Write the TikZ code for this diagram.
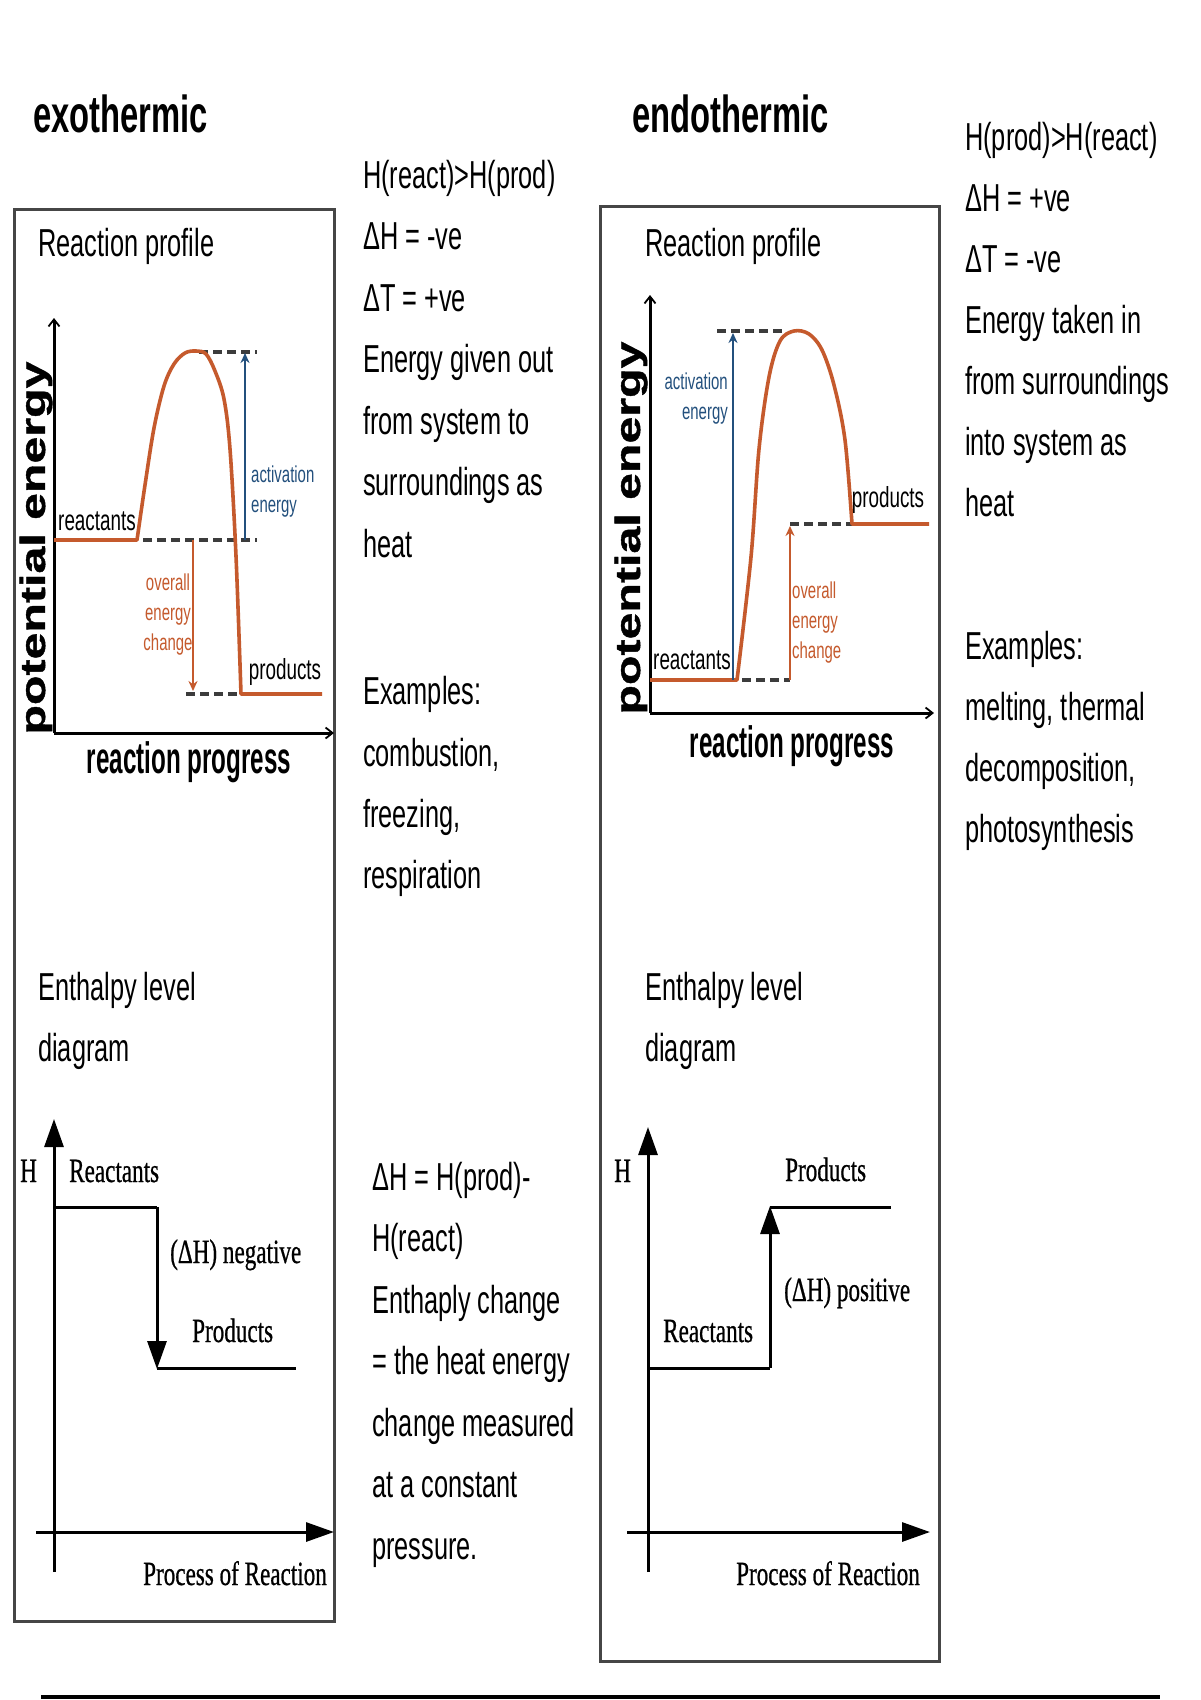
\documentclass[tikz,border=0pt]{standalone}
\usepackage{fontspec}
\usetikzlibrary{arrows.meta}
\setmainfont{Liberation Sans}
\newfontfamily\nar[FakeStretch=0.65]{Liberation Sans}
\newfontfamily\titlef[FakeStretch=0.63,UprightFont={* Bold}]{Liberation Sans}
\newfontfamily\progf[FakeStretch=0.55,UprightFont={* Bold}]{Liberation Sans}
\newfontfamily\potf[FakeStretch=1.38,FakeBold=1.2,UprightFont={* Bold}]{Liberation Sans}
\newfontfamily\serf[FakeStretch=0.68,FakeBold=0.6]{Liberation Serif}
\definecolor{curvec}{RGB}{197,90,45}
\definecolor{bluc}{RGB}{35,80,125}
\definecolor{boxc}{RGB}{70,70,70}
\definecolor{dashc}{RGB}{60,60,60}
\tikzset{
  boxline/.style={draw=boxc, line width=3pt},
  ttl/.style={anchor=base west, inner sep=0pt, font={\titlef\fontsize{52}{60}\selectfont}},
  txt/.style={anchor=base west, inner sep=0pt, font={\nar\fontsize{39}{47}\selectfont}},
  prog/.style={inner sep=0pt, font={\progf\fontsize{44}{50}\selectfont}},
  pot/.style={inner sep=0pt, rotate=90, font={\potf\fontsize{35}{40}\selectfont}},
  lvl/.style={inner sep=0pt, font={\nar\fontsize{29}{34}\selectfont}},
  small/.style={inner sep=0pt, font={\nar\fontsize{23}{30}\selectfont}},
  ser/.style={anchor=base west, inner sep=0pt, font={\serf\fontsize{34}{40}\selectfont}},
  axisarr/.style={line width=3pt, -{Straight Barb[length=7pt,width=11pt,line width=1.8pt]}},
  curvel/.style={draw=curvec, line width=3.6pt, line join=round},
  dashl/.style={draw=dashc, line width=3.2pt, dash pattern=on 9pt off 5pt},
  bluarr/.style={draw=bluc, line width=2.2pt, -{Stealth[length=10pt,width=9pt]}},
  orarr/.style={draw=curvec, line width=2.2pt, -{Stealth[length=10pt,width=9pt]}},
  hline/.style={line width=3pt},
  harr/.style={line width=3pt, -{Triangle[length=28pt,width=19pt]}},
}
\begin{document}
\begin{tikzpicture}[x=1pt,y=-1pt]
\useasboundingbox (0,0) rectangle (1200,1700);
\fill[white] (0,0) rectangle (1200,1700);

% titles
\node[ttl] (exo) at (33,132) {exothermic};
\node[ttl] (endo) at (632,132) {endothermic};

% boxes
\draw[boxline] (14,209) rectangle (334,1621);
\draw[boxline] (600,206) rectangle (939,1661);
\draw[line width=4pt] (41,1697) -- (1160,1697);

% ---------- left reaction profile ----------
\node[txt] (rpL) at (38,256) {Reaction profile};
\coordinate (oL) at (54,733);
\draw[axisarr] (oL) -- (54,318);
\draw[axisarr] (oL) -- (334,733);
\node[pot] (peL) at (36,548) {potential energy};
\node[prog] (rgL) at (189,762) {reaction progress};
\draw[dashl] (199,352) -- (257,352);
\draw[dashl] (143,540) -- (257,540);
\draw[dashl] (186,694) -- (241,694);
\draw[curvel] (54,540) -- (137,540) -- plot[smooth, tension=0.55] coordinates {(137,540) (145,485) (154,428) (164,386) (174,364) (185,353) (196,351) (206,354) (215,371) (224,399) (230,449) (236,556) (241,694)} -- (322,694);
\draw[bluarr] (245,540) -- (245,353);
\draw[orarr] (193,540) -- (193,691);
\node[lvl] (reL) at (97,521) {reactants};
\node[lvl] (prL) at (285,672) {products};
\node[small, text=bluc, align=left, anchor=west] (aeL) at (251,492) {activation\\energy};
\node[small, text=curvec, align=center] (oeL) at (168,615) {overall\\energy\\change};

% ---------- right reaction profile ----------
\node[txt] (rpR) at (645,256) {Reaction profile};
\coordinate (oR) at (650,713);
\draw[axisarr] (oR) -- (650,295);
\draw[axisarr] (oR) -- (934,713);
\node[pot] (peR) at (631,528) {potential energy};
\node[prog] (rgR) at (792,746) {reaction progress};
\draw[dashl] (717,331) -- (784,331);
\draw[dashl] (742,680) -- (790,680);
\draw[dashl] (790,524) -- (852,524);
\draw[curvel] (650,680) -- (737,680) -- plot[smooth, tension=0.55] coordinates {(737,680) (751,557) (759,449) (769,377) (780,341) (794,331) (809,334) (822,350) (834,385) (845,440) (852,524)} -- (929,524);
\draw[bluarr] (733,680) -- (733,333);
\draw[orarr] (790,680) -- (790,526);
\node[lvl] (reR) at (692,660) {reactants};
\node[lvl] (prR) at (888,500) {products};
\node[small, text=bluc, align=right, anchor=east] (aeR) at (728,399) {activation\\energy};
\node[small, text=curvec, align=left, anchor=west] (oeR) at (792,623) {overall\\energy\\change};

% ---------- left enthalpy diagram ----------
\node[txt] (elL1) at (38,1000) {Enthalpy level};
\node[txt] (elL2) at (38,1061) {diagram};
\draw[harr] (54,1572) -- (54,1119);
\draw[harr] (36,1532) -- (334,1532);
\draw[hline] (54,1207) -- (157,1207);
\draw[harr] (157,1207) -- (157,1369);
\draw[hline] (157,1368) -- (296,1368);
\node[ser] (hL) at (20,1182) {H};
\node[ser] (rL) at (69,1182) {Reactants};
\node[ser] (dL) at (170,1263) {(ΔH) negative};
\node[ser] (pL) at (192,1342) {Products};
\node[ser] (xL) at (143,1585) {Process of Reaction};

% ---------- right enthalpy diagram ----------
\node[txt] (elR1) at (645,1000) {Enthalpy level};
\node[txt] (elR2) at (645,1061) {diagram};
\draw[harr] (648,1572) -- (648,1127);
\draw[harr] (627,1532) -- (930,1532);
\draw[hline] (648,1368) -- (770,1368);
\draw[harr] (770,1368) -- (770,1206);
\draw[hline] (770,1207) -- (891,1207);
\node[ser] (hR) at (614,1182) {H};
\node[ser] (pR) at (785,1181) {Products};
\node[ser] (dR) at (784,1301) {(ΔH) positive};
\node[ser] (rR) at (663,1342) {Reactants};
\node[ser] (xR) at (736,1585) {Process of Reaction};

% ---------- middle text ----------
\node[txt] (m1) at (363,188) {H(react)>H(prod)};
\node[txt] (m2) at (363,249) {ΔH = -ve};
\node[txt] (m3) at (363,311) {ΔT = +ve};
\node[txt] (m4) at (363,372) {Energy given out};
\node[txt] (m5) at (363,434) {from system to};
\node[txt] (m6) at (363,495) {surroundings as};
\node[txt] (m7) at (363,557) {heat};
\node[txt] (m8) at (363,704) {Examples:};
\node[txt] (m9) at (363,766) {combustion,};
\node[txt] (m10) at (363,827) {freezing,};
\node[txt] (m11) at (363,888) {respiration};
\node[txt] (n1) at (372,1190) {ΔH = H(prod)-};
\node[txt] (n2) at (372,1251) {H(react)};
\node[txt] (n3) at (372,1313) {Enthaply change};
\node[txt] (n4) at (372,1374) {= the heat energy};
\node[txt] (n5) at (372,1436) {change measured};
\node[txt] (n6) at (372,1497) {at a constant};
\node[txt] (n7) at (372,1559) {pressure.};

% ---------- right text ----------
\node[txt] (r1) at (965,150) {H(prod)>H(react)};
\node[txt] (r2) at (965,211) {ΔH = +ve};
\node[txt] (r3) at (965,272) {ΔT = -ve};
\node[txt] (r4) at (965,333) {Energy taken in};
\node[txt] (r5) at (965,394) {from surroundings};
\node[txt] (r6) at (965,455) {into system as};
\node[txt] (r7) at (965,516) {heat};
\node[txt] (r8) at (965,659) {Examples:};
\node[txt] (r9) at (965,720) {melting, thermal};
\node[txt] (r10) at (965,781) {decomposition,};
\node[txt] (r11) at (965,842) {photosynthesis};
\end{tikzpicture}
\end{document}
